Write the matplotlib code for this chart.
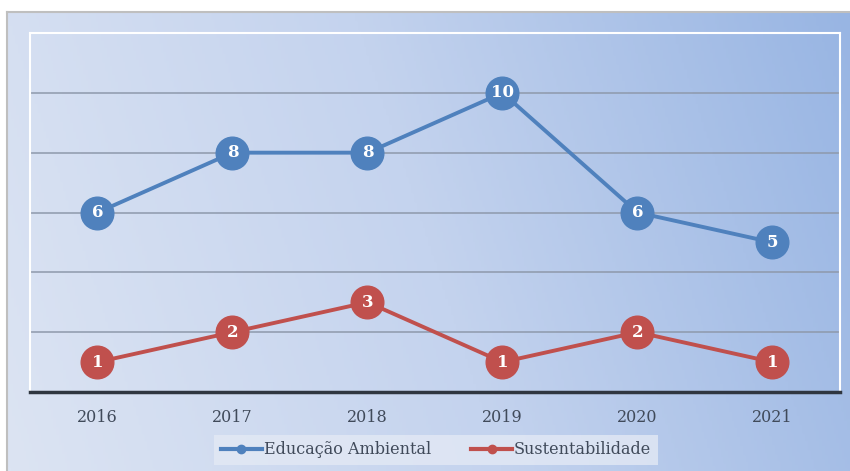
import numpy as np
import matplotlib
matplotlib.use('Agg')
import matplotlib.pyplot as plt
from matplotlib.colors import LinearSegmentedColormap
from matplotlib.lines import Line2D

anos = ['2016', '2017', '2018', '2019', '2020', '2021']
educacao = [6, 8, 8, 10, 6, 5]
sustentabilidade = [1, 2, 3, 1, 2, 1]

azul = '#4F81BD'
vermelho = '#C0504D'
fonte = 'DejaVu Serif'

W, H = 850, 471
fig = plt.figure(figsize=(W / 100, H / 100), dpi=100)
fig.patch.set_facecolor('white')

# background panel with gradient
bg = fig.add_axes([7 / W, 0, (W - 7) / W, (H - 12) / H])
cmap = LinearSegmentedColormap.from_list('fundo', ['#DCE4F3', '#C4D3EE', '#98B5E3'])
xx, yy = np.meshgrid(np.linspace(0, 1, 300), np.linspace(0, 1, 200))
grad = 0.85 * xx + 0.15 * yy
bg.imshow(grad, cmap=cmap, aspect='auto', extent=[0, 1, 0, 1], origin='lower')
bg.set_xlim(0, 1)
bg.set_ylim(0, 1)
bg.set_xticks([])
bg.set_yticks([])
for s in ['right', 'bottom']:
    bg.spines[s].set_visible(False)
for s in ['left', 'top']:
    bg.spines[s].set_color('#BFBFBF')
    bg.spines[s].set_linewidth(1.5)

ax = fig.add_axes([30 / W, (H - 392) / H, 810 / W, (392 - 33) / H])
ax.set_facecolor('none')
x = np.arange(len(anos))
ax.set_xlim(-0.5, len(anos) - 0.5)
ax.set_ylim(0, 12)
ax.set_yticks([2, 4, 6, 8, 10])
ax.yaxis.grid(True, color='#8E99AB', linewidth=1.1)
ax.set_axisbelow(True)
ax.tick_params(axis='y', left=False, labelleft=False)
ax.tick_params(axis='x', bottom=False, pad=9)
ax.set_xticks(x)
ax.set_xticklabels(anos, fontfamily=fonte, fontsize=11.5, color='#404A5A')
for s in ['left', 'top', 'right']:
    ax.spines[s].set_color('white')
    ax.spines[s].set_linewidth(1.5)
ax.spines['bottom'].set_color('#2F3640')
ax.spines['bottom'].set_linewidth(2.5)

for serie, cor, nome in [(educacao, azul, 'Educação Ambiental'),
                         (sustentabilidade, vermelho, 'Sustentabilidade')]:
    ax.plot(x, serie, color=cor, linewidth=2.8, marker='o', markersize=23.5,
            markeredgecolor=cor, label=nome, zorder=3)
    for xi, v in zip(x, serie):
        ax.text(xi, v, str(v), ha='center', va='center', color='white',
                fontfamily=fonte, fontweight='bold', fontsize=12, zorder=4)

handles = [Line2D([], [], color=azul, linewidth=3, marker='o', markersize=6),
           Line2D([], [], color=vermelho, linewidth=3, marker='o', markersize=6)]
leg = fig.legend(handles, ['Educação Ambiental', 'Sustentabilidade'],
                 loc='center', bbox_to_anchor=(436 / W, 1 - 450 / H), ncol=2,
                 frameon=True, fancybox=False, handlelength=2.6, handletextpad=0.1,
                 columnspacing=2.5, borderpad=0.4,
                 prop={'family': fonte, 'size': 11.5})
leg.get_frame().set_facecolor('#E3E9F5')
leg.get_frame().set_alpha(0.8)
leg.get_frame().set_edgecolor('none')
for t in leg.get_texts():
    t.set_color('#404A5A')

fig.savefig('out.png', dpi=100)
